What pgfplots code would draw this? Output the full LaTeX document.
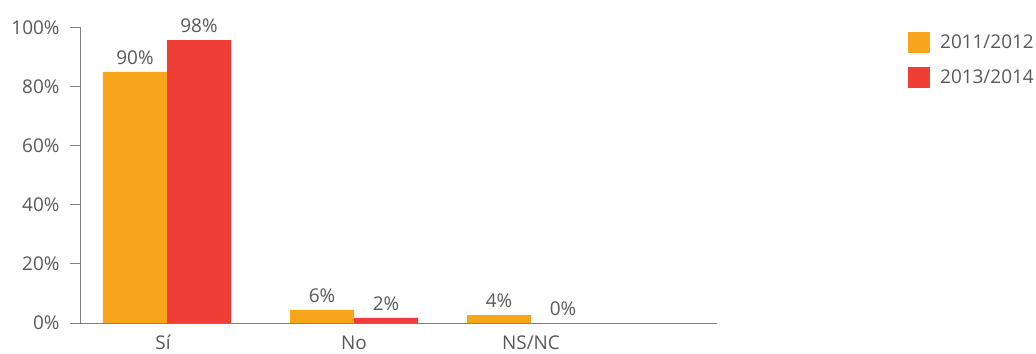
\documentclass[border=0pt]{standalone}
\usepackage{pgfplots}
\pgfplotsset{compat=1.18}
\usepackage{fontspec}
\setmainfont{Open Sans}
\definecolor{org}{HTML}{F7A51D}
\definecolor{rd}{HTML}{EF3E36}
\definecolor{txt}{HTML}{58595B}
\definecolor{axc}{HTML}{808080}
\newcommand{\tf}{\fontsize{19}{22.8}\selectfont}
\begin{document}
\begin{tikzpicture}
\path[use as bounding box] (-80bp,-31bp) rectangle (956bp,323bp);
\begin{axis}[
  at={(0,0)}, anchor=south west,
  scale only axis, width=637bp, height=295.7bp,
  xmin=0, xmax=637, ymin=0, ymax=100,
  clip=false,
  axis x line=bottom, axis y line=left,
  axis line style={axc, line width=1pt, -},
  ybar, bar width=64,
  xtick={87,274,451},
  xticklabels={{\hspace*{-8bp}Sí},No,NS/NC},
  xtick style={draw=none},
  xticklabel style={font=\tf, text=txt, inner sep=0pt, anchor=north, text height=13bp, text depth=0bp, yshift=-3bp},
  ytick={0,20,40,60,80,100},
  yticklabels={0\%,20\%,40\%,60\%,80\%,100\%},
  ytick style={axc, line width=1pt},
  tick align=outside, major tick length=10bp,
  yticklabel style={font=\tf, text=txt, xshift=-7bp},
  point meta=explicit symbolic,
  nodes near coords={\pgfplotspointmeta},
  every node near coord/.append style={font=\tf, text=txt, anchor=south, inner sep=0pt, text depth=0pt, yshift=7bp},
  legend style={at={(1.2998,0.984)}, anchor=north west, draw=none, fill=none, inner sep=0pt, row sep=14bp, column sep=10bp, font=\tf, text=txt, nodes={inner sep=0pt}},
  legend cell align=left,
]
\addplot[fill=org, draw=none, bar shift=-32, legend image code/.code={\fill[org] (0bp,-10.5bp) rectangle (22bp,10.5bp);}]
  coordinates {(87,84.9) [90\%] (274,4.4) [6\%] (451,2.7) [4\%]};
\addplot[fill=rd, draw=none, bar shift=32, legend image code/.code={\fill[rd] (0bp,-10.5bp) rectangle (22bp,10.5bp);}]
  coordinates {(87,95.7) [98\%] (274,1.7) [2\%] (451,0) [0\%]};
\legend{2011/2012,2013/2014}
\end{axis}
\end{tikzpicture}
\end{document}
